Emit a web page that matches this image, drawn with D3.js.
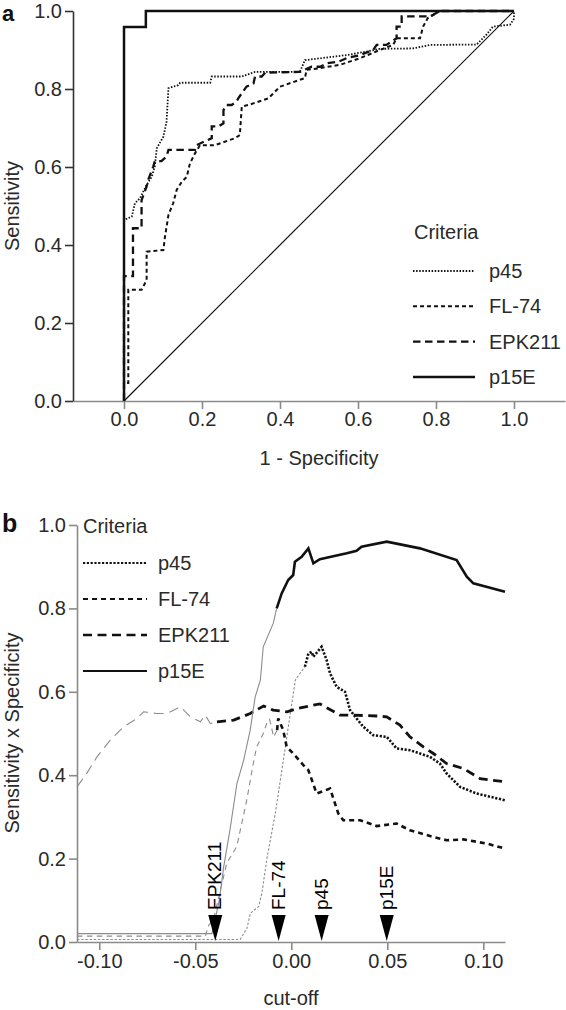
<!DOCTYPE html>
<html><head><meta charset="utf-8">
<script src="https://cdn.jsdelivr.net/npm/d3@7"></script>
<style>
body{margin:0;background:#fff}
svg{display:block}
text{font-family:"Liberation Sans",Arial,Helvetica,sans-serif}
</style>
</head><body>
<svg id="chart" width="566" height="1010"></svg>
<script>
// ---------------- DATA ----------------
const criteria = ["p45", "FL-74", "EPK211", "p15E"];

// Panel a: ROC curves (1 - specificity, sensitivity)
const rocP45Fpr = [0,0,0.02,0.028,0.041,0.049,0.058,0.071,0.079,0.084,0.101,0.109,0.114,0.139,0.144,0.221,0.225,0.302,0.336,0.451,0.464,0.571,0.622,0.656,0.741,0.785,0.904,0.93,0.946,0.99,1.0,1.0];
const rocP45Tpr = [0,0.464,0.473,0.507,0.52,0.536,0.554,0.575,0.601,0.648,0.678,0.716,0.802,0.81,0.816,0.816,0.832,0.832,0.844,0.844,0.874,0.887,0.896,0.903,0.904,0.913,0.914,0.94,0.96,0.965,0.98,1.0];
const rocFL74Fpr = [0,0,0.011,0.011,0.045,0.058,0.058,0.101,0.105,0.114,0.126,0.135,0.148,0.161,0.169,0.182,0.195,0.233,0.285,0.297,0.302,0.319,0.37,0.4,0.464,0.468,0.498,0.554,0.605,0.656,0.69,0.699,0.759,0.767,0.779,0.81,1.0];
const rocFL74Tpr = [0,0.046,0.046,0.285,0.285,0.31,0.383,0.387,0.421,0.477,0.507,0.541,0.562,0.575,0.609,0.635,0.656,0.656,0.674,0.682,0.755,0.759,0.776,0.806,0.828,0.849,0.853,0.862,0.879,0.9,0.913,0.93,0.93,0.96,0.982,1.0,1.0];
const rocEPKFpr = [0,0,0.023,0.023,0.045,0.045,0.058,0.062,0.075,0.079,0.096,0.109,0.114,0.182,0.186,0.225,0.225,0.242,0.255,0.255,0.263,0.276,0.289,0.293,0.302,0.314,0.323,0.332,0.336,0.353,0.362,0.451,0.481,0.503,0.52,0.55,0.571,0.605,0.639,0.648,0.673,0.699,0.699,0.712,0.712,0.785,0.81,1.0];
const rocEPKTpr = [0,0.32,0.32,0.443,0.443,0.515,0.55,0.567,0.601,0.615,0.615,0.627,0.644,0.644,0.656,0.674,0.704,0.704,0.712,0.746,0.759,0.759,0.768,0.776,0.789,0.806,0.81,0.814,0.832,0.832,0.842,0.844,0.857,0.857,0.866,0.87,0.879,0.887,0.9,0.913,0.913,0.93,0.96,0.96,0.986,0.986,1.0,1.0];
const rocP15EFpr = [0,0,0.056,0.056,1.0];
const rocP15ETpr = [0,0.959,0.959,1.0,1.0];

// Panel b: Sensitivity x Specificity vs cut-off
const cutP45 = [-0.1116,-0.0266,-0.0231,-0.0213,-0.017,-0.0153,-0.0127,-0.0109,-0.0083,-0.0057,-0.0031,-0.0005,0.0021,0.0045,0.0071,0.0089,0.0106,0.0115,0.0158,0.0184,0.0202,0.0236,0.028,0.0306,0.034,0.0375,0.0427,0.0497,0.0549,0.0618,0.0722,0.0774,0.0809,0.0879,0.0966,0.1113];
const ssP45 = [0.006,0.006,0.033,0.069,0.085,0.117,0.2,0.245,0.309,0.388,0.468,0.548,0.628,0.644,0.66,0.692,0.696,0.684,0.708,0.676,0.644,0.612,0.6,0.556,0.536,0.516,0.496,0.492,0.464,0.46,0.444,0.428,0.404,0.372,0.356,0.34];
const cutFL74 = [-0.1116,-0.0448,-0.043,-0.0406,-0.0336,-0.0284,-0.0232,-0.0198,-0.018,-0.0146,-0.0128,-0.0113,-0.0092,-0.0074,-0.0068,-0.0042,-0.0024,0.001,0.0063,0.0089,0.0132,0.0202,0.0245,0.0271,0.0358,0.0445,0.0549,0.0618,0.074,0.0809,0.0896,0.1018,0.1113];
const ssFL74 = [0.014,0.014,0.04,0.053,0.189,0.229,0.34,0.428,0.468,0.5,0.524,0.534,0.492,0.508,0.536,0.508,0.468,0.452,0.424,0.412,0.356,0.368,0.308,0.292,0.292,0.278,0.284,0.268,0.252,0.244,0.246,0.236,0.224];
const cutEPK = [-0.1116,-0.1064,-0.1012,-0.0943,-0.0873,-0.0804,-0.0769,-0.07,-0.0648,-0.0613,-0.0578,-0.0526,-0.0474,-0.0448,-0.0422,-0.0387,-0.03,-0.0214,-0.0144,-0.0094,-0.0022,0.003,0.0149,0.0254,0.0323,0.0445,0.0497,0.0566,0.0618,0.0688,0.074,0.0809,0.0896,0.0983,0.1113];
const ssEPK = [0.372,0.405,0.444,0.484,0.516,0.536,0.552,0.548,0.548,0.556,0.564,0.54,0.528,0.544,0.524,0.528,0.532,0.548,0.566,0.556,0.552,0.56,0.571,0.544,0.544,0.542,0.54,0.52,0.492,0.468,0.452,0.428,0.416,0.392,0.384];
const cutP15E = [-0.1116,-0.0413,-0.0375,-0.0352,-0.0319,-0.0283,-0.0248,-0.0214,-0.0188,-0.0161,-0.0146,-0.0094,-0.0076,-0.005,-0.0016,0.001,0.0019,0.0054,0.0089,0.0115,0.0149,0.0289,0.034,0.0366,0.0497,0.067,0.0861,0.0914,0.0948,0.1113];
const ssP15E = [0.02,0.02,0.10,0.18,0.27,0.38,0.436,0.508,0.588,0.628,0.708,0.764,0.80,0.836,0.868,0.88,0.912,0.924,0.944,0.908,0.918,0.932,0.938,0.948,0.96,0.944,0.916,0.876,0.86,0.84];
// cut-off value from which each curve is drawn bold (order = criteria)
const boldFrom = [0.0071, -0.0074, -0.0387, -0.0076];
// optimal cut-off markers
const markerNames = ["EPK211", "FL-74", "p45", "p15E"];
const markerCuts = [-0.0396, -0.0066, 0.0158, 0.0497];

// Tick values / labels
const ticksA = [0, 0.2, 0.4, 0.6, 0.8, 1.0];
const tickLabelsA = ["0.0", "0.2", "0.4", "0.6", "0.8", "1.0"];
const ticksBx = [-0.10, -0.05, 0.00, 0.05, 0.10];
const tickLabelsBx = ["-0.10", "-0.05", "0.00", "0.05", "0.10"];
const ticksBy = [0, 0.2, 0.4, 0.6, 0.8, 1.0];
const tickLabelsBy = ["0.0", "0.2", "0.4", "0.6", "0.8", "1.0"];

// ---------------- STYLES ----------------
const styleA = {
  "p45":   {dash: "1.5,1.6", w: 1.8},
  "FL-74": {dash: "4,3",     w: 2.0},
  "EPK211":{dash: "7.5,4.5", w: 2.3},
  "p15E":  {dash: null,      w: 2.5}
};
const styleB = {
  "p45":   {dash: "2.2,1.6", w: 2.6},
  "FL-74": {dash: "5,4",     w: 2.6},
  "EPK211":{dash: "9,5.5",   w: 2.8},
  "p15E":  {dash: null,      w: 2.6}
};
const FS = 20;
const axisGray = "#8a8a8a";

const svg = d3.select("#chart");

function styleAxis(g, color, fs) {
  g.selectAll("path").attr("stroke", color).attr("stroke-width", 1.6);
  g.selectAll("line").attr("stroke", color).attr("stroke-width", 1.6);
  g.selectAll("text").attr("font-size", fs).attr("fill", "#2a2a2a")
    .attr("font-family", '"Liberation Sans",Arial,sans-serif');
}

// ================= PANEL A =================
const xA = d3.scaleLinear().domain([-0.1308, 1.1308]).range([73, 565]);
const yA = d3.scaleLinear().domain([0, 1]).range([401, 11]);

const gA = svg.append("g");
gA.append("g").attr("transform", "translate(0,401)")
  .call(d3.axisBottom(xA).tickValues(ticksA).tickFormat((d,i)=>tickLabelsA[i]).tickSize(8).tickSizeOuter(0).tickPadding(3))
  .call(g => styleAxis(g, axisGray, FS));
gA.append("g").attr("transform", "translate(73,0)")
  .call(d3.axisLeft(yA).tickValues(ticksA).tickFormat((d,i)=>tickLabelsA[i]).tickSize(8).tickSizeOuter(0).tickPadding(3))
  .call(g => styleAxis(g, "#333", FS));

// diagonal
gA.append("path")
  .attr("d", d3.line().x(d=>xA(d[0])).y(d=>yA(d[1]))([[0,0],[1,1]]))
  .attr("stroke", "#111").attr("stroke-width", 1.2).attr("fill", "none");

const rocSets = [
  {name: "p45", fpr: rocP45Fpr, tpr: rocP45Tpr},
  {name: "FL-74", fpr: rocFL74Fpr, tpr: rocFL74Tpr},
  {name: "EPK211", fpr: rocEPKFpr, tpr: rocEPKTpr},
  {name: "p15E", fpr: rocP15EFpr, tpr: rocP15ETpr}
];
const lineA = d3.line().x(d=>xA(d[0])).y(d=>yA(d[1]));
rocSets.forEach(s => {
  const pts = s.fpr.map((f,i)=>[f, s.tpr[i]]);
  const st = styleA[s.name];
  gA.append("path").attr("d", lineA(pts))
    .attr("fill","none").attr("stroke","#111").attr("stroke-width", st.w)
    .attr("stroke-dasharray", st.dash);
});

// Legend A
gA.append("text").attr("x", 414).attr("y", 239).attr("font-size", FS).attr("fill","#2a2a2a").text("Criteria");
criteria.forEach((c,i) => {
  const y = 271 + i*35.3;
  const st = styleA[c];
  gA.append("line").attr("x1", 413).attr("x2", 475).attr("y1", y).attr("y2", y)
    .attr("stroke","#111").attr("stroke-width", st.w).attr("stroke-dasharray", st.dash);
  gA.append("text").attr("x", 489).attr("y", y + 7).attr("font-size", FS).attr("fill","#2a2a2a").text(c);
});

// Titles A
gA.append("text").attr("x", 319).attr("y", 465).attr("text-anchor","middle").attr("font-size", FS).attr("fill","#2a2a2a").text("1 - Specificity");
gA.append("text").attr("transform","translate(19,206) rotate(-90)").attr("text-anchor","middle").attr("font-size", FS).attr("fill","#2a2a2a").text("Sensitivity");
svg.append("text").attr("x", 2).attr("y", 21).attr("font-size", 22).attr("font-weight","bold").attr("fill","#111").text("a");

// ================= PANEL B =================
const xB = d3.scaleLinear().domain([-0.1116, 0.1113]).range([77, 505]);
const yB = d3.scaleLinear().domain([0, 1]).range([942, 525]);
const gB = svg.append("g");

gB.append("g").attr("transform","translate(0,942)")
  .call(d3.axisBottom(xB).tickValues(ticksBx).tickFormat((d,i)=>tickLabelsBx[i]).tickSize(8).tickSizeOuter(0).tickPadding(4))
  .call(g => styleAxis(g, axisGray, FS));
gB.append("g").attr("transform","translate(77,0)")
  .call(d3.axisLeft(yB).tickValues(ticksBy).tickFormat((d,i)=>tickLabelsBy[i]).tickSize(8).tickSizeOuter(0).tickPadding(3))
  .call(g => styleAxis(g, axisGray, FS));

const cutSets = [
  {name: "p45", x: cutP45, y: ssP45},
  {name: "FL-74", x: cutFL74, y: ssFL74},
  {name: "EPK211", x: cutEPK, y: ssEPK},
  {name: "p15E", x: cutP15E, y: ssP15E}
];
const lineB = d3.line().x(d=>xB(d[0])).y(d=>yB(d[1]));
cutSets.forEach((s, k) => {
  const pts = s.x.map((v,i)=>[v, s.y[i]]);
  const split = boldFrom[k];
  const thin = pts.filter(p => p[0] <= split);
  const bold = pts.filter(p => p[0] >= split);
  const st = styleB[s.name];
  const thinDash = st.dash ? st.dash.split(",").map(v=>+v*1.1).join(",") : null;
  gB.append("path").attr("d", lineB(thin)).attr("fill","none")
    .attr("stroke","#8c8c8c").attr("stroke-width",1.1).attr("stroke-dasharray", thinDash);
  gB.append("path").attr("d", lineB(bold)).attr("fill","none")
    .attr("stroke","#111").attr("stroke-width",st.w).attr("stroke-dasharray", st.dash);
});

// markers
markerNames.forEach((n,i) => {
  const x = xB(markerCuts[i]);
  const tip = yB(0) - 1;
  gB.append("path")
    .attr("d", `M${x-7},${tip-26} L${x+7},${tip-26} L${x},${tip} Z`)
    .attr("fill","#000");
  gB.append("text").attr("transform", `translate(${x+6},${tip-31}) rotate(-90)`)
    .attr("font-size", 19).attr("fill","#000").text(n);
});

// Legend B
gB.append("text").attr("x", 83).attr("y", 533).attr("font-size", FS).attr("fill","#2a2a2a").text("Criteria");
criteria.forEach((c,i) => {
  const y = 563 + i*36;
  const st = styleB[c];
  gB.append("line").attr("x1", 83).attr("x2", 147).attr("y1", y).attr("y2", y)
    .attr("stroke","#111").attr("stroke-width", st.w*0.85).attr("stroke-dasharray", st.dash);
  gB.append("text").attr("x", 158).attr("y", y + 7).attr("font-size", FS).attr("fill","#2a2a2a").text(c);
});

// Titles B
gB.append("text").attr("x", 291).attr("y", 1005).attr("text-anchor","middle").attr("font-size", FS).attr("fill","#2a2a2a").text("cut-off");
gB.append("text").attr("transform","translate(19,733) rotate(-90)").attr("text-anchor","middle").attr("font-size", FS).attr("fill","#2a2a2a").text("Sensitivity x Specificity");
svg.append("text").attr("x", 2).attr("y", 532).attr("font-size", 25).attr("font-weight","bold").attr("fill","#111").text("b");
</script>
</body></html>
